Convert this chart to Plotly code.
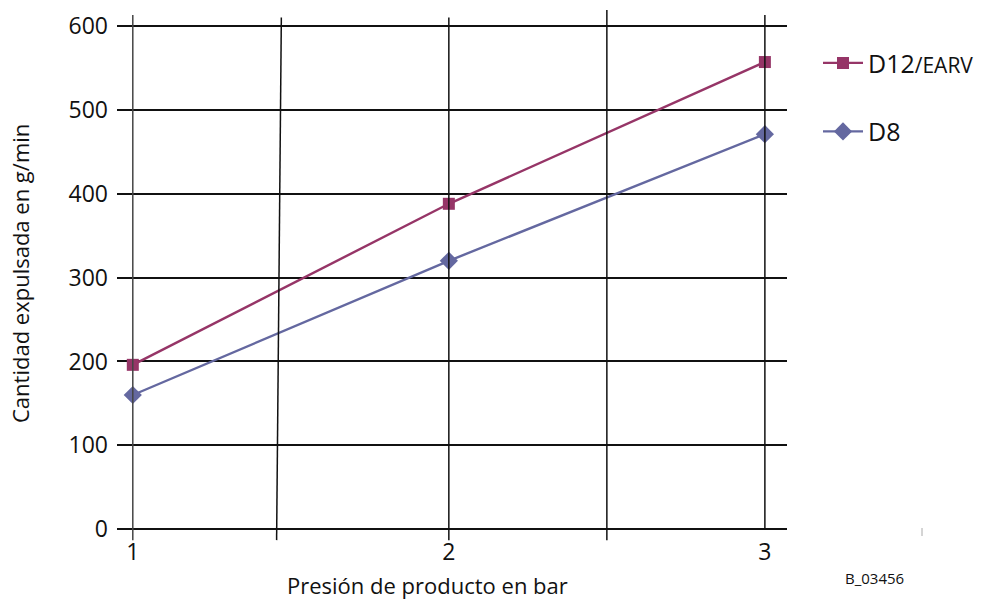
import plotly.graph_objects as go

pressure = [1, 2, 3]
d12_earv = [196, 388, 557]
d8 = [160, 320, 471]
y_ticks = [0, 100, 200, 300, 400, 500, 600]
x_ticks = [1, 2, 3]

FONT = "Open Sans, Noto Sans, sans-serif"
C_D12 = "#963567"
C_D8 = "#6468A0"

fig = go.Figure()
fig.add_trace(go.Scatter(
    x=pressure, y=d12_earv, mode="lines+markers",
    name="D12<span style='font-size:21px'>/EARV</span>",
    line=dict(color=C_D12, width=2.4),
    marker=dict(symbol="square", size=12, color=C_D12),
    legendgroup="a", cliponaxis=False))
fig.add_trace(go.Scatter(
    x=pressure, y=d8, mode="lines+markers", name="D8",
    line=dict(color=C_D8, width=2.4),
    marker=dict(symbol="diamond", size=14, color=C_D8),
    legendgroup="b", cliponaxis=False))

# vertical grid-like lines (x0, x1, ytop, ybottom)
vlines = [(1, 1, 613, -13, "#444"), (1.47, 1.455, 610, -13, "#111"), (2, 2, 610, -13, "#111"),
          (2.5, 2.5, 619, -13, "#111"), (3, 3, 613, 0, "#111")]
shapes = []
for x0, x1, yt, yb, c in vlines:
    shapes.append(dict(type="line", xref="x", yref="y", x0=x0, x1=x1, y0=yt, y1=yb,
                       line=dict(color=c, width=1.5), layer="above"))
# small stray mark at right of the baseline
shapes.append(dict(type="line", xref="paper", yref="paper",
                   x0=(922 - 117) / 670, x1=(922 - 117) / 670,
                   y0=(546 - 528) / 541, y1=(546 - 536) / 541,
                   line=dict(color="#aaa", width=1)))

fig.update_layout(
    width=1008, height=599,
    margin=dict(l=117, r=221, t=5, b=53),
    paper_bgcolor="white", plot_bgcolor="white",
    font=dict(family=FONT, color="#111", size=20),
    showlegend=True,
    legend=dict(x=(818 - 117) / 670, y=0.935, xanchor="left", yanchor="top",
                font=dict(size=25, family=FONT), tracegroupgap=33, itemwidth=40,
                traceorder="grouped", bgcolor="rgba(0,0,0,0)"),
    shapes=shapes,
    xaxis=dict(range=[0.95, 3.07], tickvals=x_ticks, ticktext=[str(v) for v in x_ticks],
               showgrid=False, zeroline=False, showline=False, ticks="",
               tickfont=dict(size=23), ticklabelstandoff=-10),
    yaxis=dict(range=[-20, 625], tickvals=y_ticks, showgrid=True, gridcolor="#111",
               gridwidth=1.5, zeroline=False, showline=False, ticks="",
               tickfont=dict(size=23), ticklabelstandoff=8),
    annotations=[
        dict(text="Presión de producto en bar", xref="paper", yref="paper",
             x=(427 - 117) / 670, y=(546 - 585) / 541, xanchor="center", yanchor="middle",
             showarrow=False, font=dict(size=22)),
        dict(text="Cantidad expulsada en g/min", xref="paper", yref="paper",
             x=(20 - 117) / 670, y=(546 - 274) / 541, textangle=-90, xanchor="center",
             yanchor="middle", showarrow=False, font=dict(size=22)),
        dict(text="B_03456", xref="paper", yref="paper",
             x=(874 - 117) / 670, y=(546 - 578) / 541, xanchor="center", yanchor="middle",
             showarrow=False, font=dict(size=15)),
    ],
)

fig.write_html("out.html", config={"displayModeBar": False},
               post_script="document.body.style.margin='0';")
